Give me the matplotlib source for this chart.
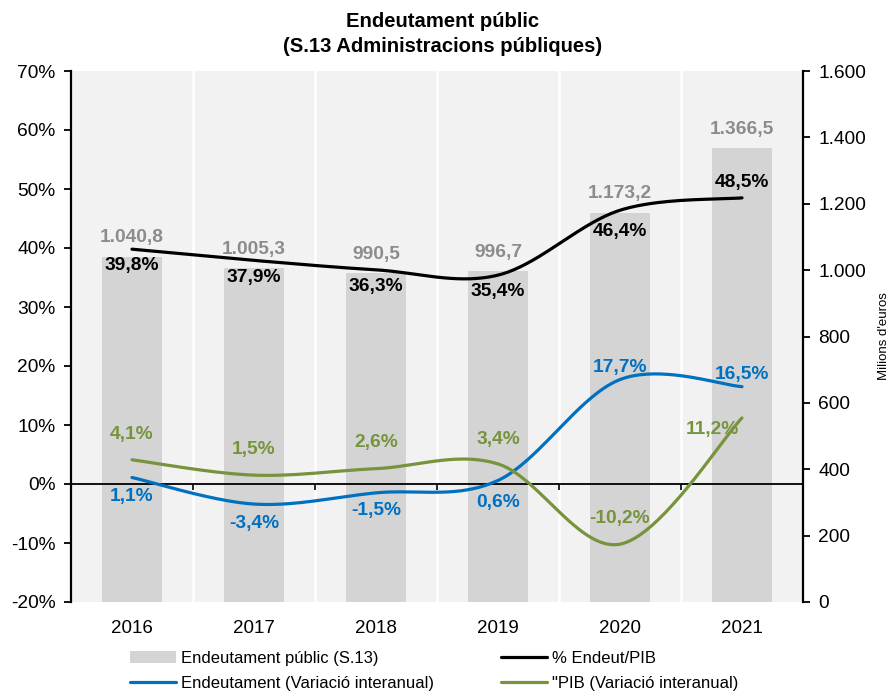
import numpy as np
import matplotlib
matplotlib.use("Agg")
import matplotlib.pyplot as plt
from matplotlib.ticker import FuncFormatter

plt.rcParams['font.family'] = ['Liberation Sans', 'DejaVu Sans']

# data
years = ['2016', '2017', '2018', '2019', '2020', '2021']
deute = [1040.8, 1005.3, 990.5, 996.7, 1173.2, 1366.5]        # milions d'euros
deute_pib = [39.8, 37.9, 36.3, 35.4, 46.4, 48.5]               # %
deute_var = [1.1, -3.4, -1.5, 0.6, 17.7, 16.5]                 # %
pib_var = [4.1, 1.5, 2.6, 3.4, -10.2, 11.2]                    # %

GRAY_BAR = '#d4d4d4'
GRAY_TXT = '#8c8c8c'
BLUE = '#0070c0'
GREEN = '#77933c'


def smooth(x, y, n=40):
    # excel-like smoothed line: catmull-rom as cubic bezier segments
    pts = np.column_stack([x, y]).astype(float)
    p = np.vstack([pts[0], pts, pts[-1]])
    t = np.linspace(0, 1, n)[:, None]
    out = []
    for i in range(len(pts) - 1):
        p0, p1, p2, p3 = p[i], p[i + 1], p[i + 2], p[i + 3]
        c1 = p1 + (p2 - p0) / 6
        c2 = p2 - (p3 - p1) / 6
        seg = (1 - t)**3 * p1 + 3 * (1 - t)**2 * t * c1 + 3 * (1 - t) * t**2 * c2 + t**3 * p2
        out.append(seg if i == 0 else seg[1:])
    arr = np.vstack(out)
    return arr[:, 0], arr[:, 1]


def fmt_pct(v):
    return f"{v:.1f}%".replace('.', ',')


def fmt_mil(v):
    return f"{v:,.1f}".replace(',', '#').replace('.', ',').replace('#', '.')


fig, ax = plt.subplots(figsize=(8.89, 6.91), dpi=100)
fig.subplots_adjust(left=71/889, right=803/889, bottom=1-602/691, top=1-71/691)
ax2 = ax.twinx()
ax.set_zorder(ax2.get_zorder() + 1)
ax.patch.set_visible(False)
ax2.patch.set_visible(True)
ax2.set_facecolor('#f2f2f2')

x = np.arange(len(years))

# bars on the right axis
bars = ax2.bar(x, deute, width=0.49, color=GRAY_BAR, label='Endeutament públic (S.13)')
ax2.set_ylim(0, 1600)
ax2.set_yticks(np.arange(0, 1601, 200))
ax2.yaxis.set_major_formatter(FuncFormatter(lambda v, p: f"{int(v):,}".replace(',', '.')))
for xi, v in zip(x, deute):
    ax2.annotate(fmt_mil(v), (xi, v), xytext=(0, 13.5), textcoords='offset points',
                 ha='center', va='center', fontsize=13.8, fontweight='bold', color=GRAY_TXT)

# lines on the left axis
xs, ys = smooth(x, deute_pib)
l1, = ax.plot(xs, ys, color='black', lw=2.3, label='% Endeut/PIB', solid_capstyle='round')
xs, ys = smooth(x, deute_var)
l2, = ax.plot(xs, ys, color=BLUE, lw=2.3, label='Endeutament (Variació interanual)', solid_capstyle='round')
xs, ys = smooth(x, pib_var)
l3, = ax.plot(xs, ys, color=GREEN, lw=2.3, label='"PIB (Variació interanual)', solid_capstyle='round')

# label offsets in points
off_pib = [(0, -12), (0, -12), (0, -12), (0, -12), (0, -15), (0, 11)]
off_var = [(0, -13.5), (0, -14), (0, -13), (0, -16), (0, 8.5), (0, 8.5)]
off_gdp = [(0, 18.5), (0, 18.5), (0, 18.5), (0, 17.5), (0, 18.5), (-21, -8.5)]
for vals, offs, col in [(deute_pib, off_pib, 'black'), (deute_var, off_var, BLUE),
                        (pib_var, off_gdp, GREEN)]:
    for xi, v, o in zip(x, vals, offs):
        ax.annotate(fmt_pct(v), (xi, v), xytext=o, textcoords='offset points',
                    ha='center', va='center', fontsize=13.8, fontweight='bold', color=col)

ax.set_xlim(-0.5, len(years) - 0.5)
ax.set_ylim(-20, 70)
ax.set_yticks(np.arange(-20, 71, 10))
ax.yaxis.set_major_formatter(FuncFormatter(lambda v, p: f"{int(v)}%"))

ax.set_xticks(x)
ax.set_xticklabels(years)
ax.set_xticks(x[:-1] + 0.5, minor=True)
ax.tick_params(axis='x', which='both', length=0, labelsize=13.5, pad=13)
ax.grid(which='minor', axis='x', color='white', lw=1.8)
ax.set_axisbelow(True)

ax.tick_params(axis='y', direction='out', length=5, width=1.3, labelsize=13.8, pad=6)
ax2.tick_params(axis='y', direction='out', length=5, width=1.3, labelsize=13.8, pad=6)

for a in (ax, ax2):
    for s in ('top', 'bottom'):
        a.spines[s].set_visible(False)
ax.spines['left'].set_linewidth(1.6)
ax2.spines['right'].set_linewidth(1.6)
ax.spines['right'].set_visible(False)
ax2.spines['left'].set_visible(False)

# zero line with category boundary ticks
sec = ax.secondary_xaxis(0, transform=ax.transData)
sec.set_xticks(x[:-1] + 0.5)
sec.set_xticklabels([])
sec.tick_params(direction='out', length=4, width=1.2)
sec.spines['bottom'].set_linewidth(1.3)
sec.set_zorder(1)

ax2.set_ylabel("Milions d'euros", fontsize=9.5, va='center')
ax2.yaxis.set_label_coords((884 - 71) / 732, 0.5)

fig.text(443/889, 1 - 34/691, 'Endeutament públic\n(S.13 Administracions públiques)',
         ha='center', va='center', fontsize=14.6, fontweight='bold', linespacing=1.45)

fig.legend([bars, l2, l1, l3],
           ['Endeutament públic (S.13)', 'Endeutament (Variació interanual)',
            '% Endeut/PIB', '"PIB (Variació interanual)'],
           ncol=2, loc='upper left', bbox_to_anchor=(130/889, 1 - 651/691),
           frameon=False, fontsize=12, handlelength=2.75, handletextpad=0.3,
           columnspacing=4.05, labelspacing=0.6, borderpad=0, borderaxespad=0)

fig.savefig('out.png', dpi=100)
